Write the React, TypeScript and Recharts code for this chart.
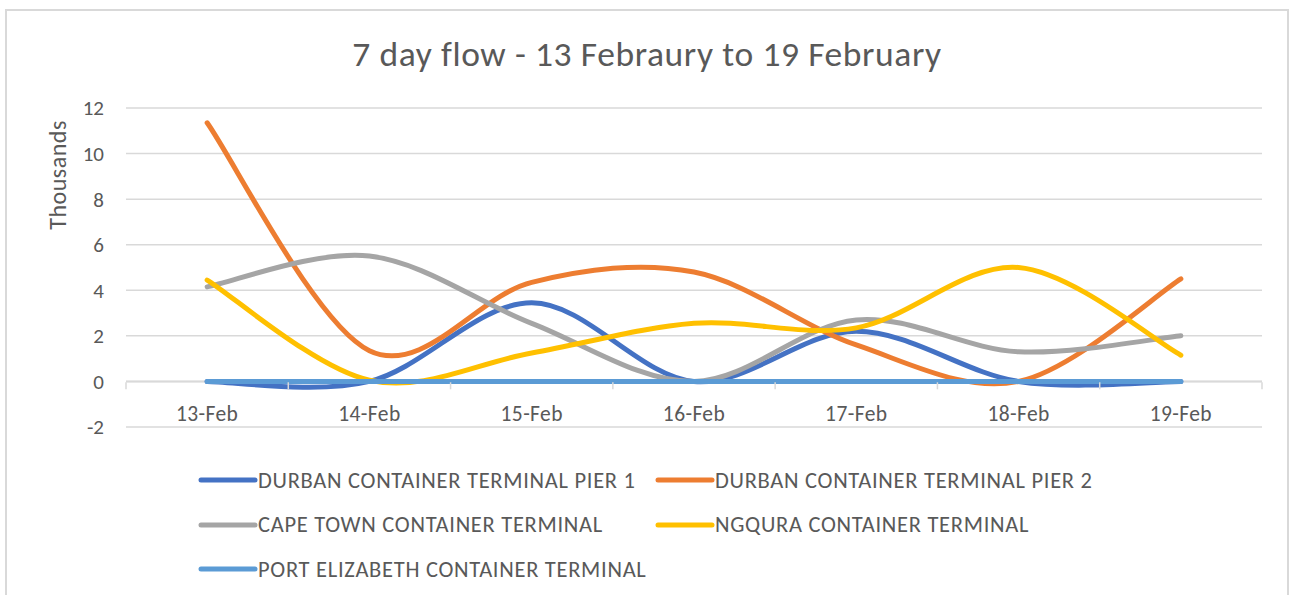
import React from "react";
import {
  LineChart,
  Line,
  XAxis,
  YAxis,
  CartesianGrid,
  ReferenceLine,
  Legend,
} from "recharts";

const days = ["13-Feb", "14-Feb", "15-Feb", "16-Feb", "17-Feb", "18-Feb", "19-Feb"];
const durbanPier1 = [0, 0, 3.45, 0, 2.2, 0, 0];
const durbanPier2 = [11.35, 1.35, 4.35, 4.8, 1.6, 0, 4.5];
const capeTown = [4.15, 5.5, 2.55, 0, 2.7, 1.3, 2.0];
const ngqura = [4.45, 0.05, 1.25, 2.55, 2.35, 5.0, 1.15];
const portElizabeth = [0, 0, 0, 0, 0, 0, 0];
const yTicks = [-2, 0, 2, 4, 6, 8, 10, 12];

const series = [
  { key: "p1", name: "DURBAN CONTAINER TERMINAL PIER 1", values: durbanPier1, color: "#4472C4" },
  { key: "p2", name: "DURBAN CONTAINER TERMINAL PIER 2", values: durbanPier2, color: "#ED7D31" },
  { key: "ct", name: "CAPE TOWN CONTAINER TERMINAL", values: capeTown, color: "#A5A5A5" },
  { key: "nq", name: "NGQURA CONTAINER TERMINAL", values: ngqura, color: "#FFC000" },
  { key: "pe", name: "PORT ELIZABETH CONTAINER TERMINAL", values: portElizabeth, color: "#5B9BD5" },
];

const data = days.map((day, i) => {
  const row: Record<string, string | number> = { day };
  series.forEach((s) => (row[s.key] = s.values[i]));
  return row;
});

const FONT = "Carlito, Lato, 'Liberation Sans', sans-serif";
const TEXT = "#595959";
const W = 1280;
const H = 586;
const M = { top: 97, right: 25, bottom: 169, left: 0 };
const Y_W = 119;
const PLOT_W = W - M.left - M.right - Y_W;
const PLOT_H = H - M.top - M.bottom;
const Y_MIN = -2;
const Y_MAX = 12;
const zeroY = M.top + ((Y_MAX - 0) / (Y_MAX - Y_MIN)) * PLOT_H;

// Excel-like smoothed line (catmull-rom style bezier)
const excelSmooth = (context: any) => {
  let pts: number[][] = [];
  return {
    areaStart() {},
    areaEnd() {},
    lineStart() {
      pts = [];
    },
    point(x: number, y: number) {
      pts.push([+x, +y]);
    },
    lineEnd() {
      const n = pts.length;
      if (!n) return;
      context.moveTo(pts[0][0], pts[0][1]);
      for (let i = 0; i < n - 1; i++) {
        const p0 = pts[Math.max(i - 1, 0)];
        const p1 = pts[i];
        const p2 = pts[i + 1];
        const p3 = pts[Math.min(i + 2, n - 1)];
        context.bezierCurveTo(
          p1[0] + (p2[0] - p0[0]) / 6,
          p1[1] + (p2[1] - p0[1]) / 6,
          p2[0] - (p3[0] - p1[0]) / 6,
          p2[1] - (p3[1] - p1[1]) / 6,
          p2[0],
          p2[1]
        );
      }
    },
  };
};

const DayTick = (props: any) => {
  const { x, index, payload } = props;
  const bw = PLOT_W / days.length;
  return (
    <g>
      <line x1={x - bw / 2} x2={x - bw / 2} y1={zeroY} y2={zeroY + 7} stroke="#d9d9d9" strokeWidth={1.5} />
      {index === days.length - 1 && (
        <line x1={x + bw / 2} x2={x + bw / 2} y1={zeroY} y2={zeroY + 7} stroke="#d9d9d9" strokeWidth={1.5} />
      )}
      <text
        x={x}
        y={zeroY + 39}
        textAnchor="middle"
        fill={TEXT}
        fontSize={21.5}
        letterSpacing={0.4}
        fontFamily={FONT}
      >
        {payload.value}
      </text>
    </g>
  );
};

const LegendBox = () => (
  <div
    style={{
      display: "grid",
      gridTemplateColumns: "457px 457px",
      gridAutoRows: "44.5px",
      fontFamily: FONT,
      fontSize: 22.5,
      letterSpacing: 0.7,
      color: TEXT,
    }}
  >
    {series.map((s) => (
      <div key={s.key} style={{ display: "flex", alignItems: "center" }}>
        <svg width={60} height={8}>
          <line x1={3} x2={57} y1={4} y2={4} stroke={s.color} strokeWidth={5} strokeLinecap="round" />
        </svg>
        <span style={{ whiteSpace: "nowrap" }}>{s.name}</span>
      </div>
    ))}
  </div>
);

const YLabel = (props: any) => {
  const { viewBox } = props;
  const cx = viewBox.x + 50;
  const cy = viewBox.y + 67;
  return (
    <text
      x={cx}
      y={cy}
      transform={`rotate(-90 ${cx} ${cy})`}
      textAnchor="middle"
      dominantBaseline="central"
      fill={TEXT}
      fontSize={24}
      letterSpacing={0.5}
      fontFamily={FONT}
    >
      Thousands
    </text>
  );
};

export default function App() {
  return (
    <div style={{ position: "absolute", left: 0, top: 0, width: 1294, height: 595, background: "#fff", overflow: "hidden" }}>
      <div
        style={{
          position: "absolute",
          left: 5,
          top: 9,
          width: 1284,
          height: 600,
          border: "2px solid #d9d9d9",
          boxSizing: "border-box",
          background: "#fff",
        }}
      >
        <div
          style={{
            position: "absolute",
            left: 0,
            width: "100%",
            top: 21,
            textAlign: "center",
            fontFamily: FONT,
            fontSize: 35.5,
            letterSpacing: 0.6,
            color: TEXT,
            lineHeight: "44px",
          }}
        >
          7 day flow - 13 Febraury to 19 February
        </div>
        <LineChart width={W} height={H} data={data} margin={M}>
          <CartesianGrid vertical={false} stroke="#d9d9d9" strokeWidth={1.5} />
          <XAxis
            dataKey="day"
            scale="band"
            axisLine={false}
            tickLine={false}
            height={1}
            interval={0}
            tick={<DayTick />}
          />
          <YAxis
            width={Y_W}
            domain={[Y_MIN, Y_MAX]}
            ticks={yTicks}
            axisLine={false}
            tickLine={false}
            tickSize={0}
            tickMargin={22}
            tick={{ fill: TEXT, fontSize: 21, fontFamily: FONT }}
            label={<YLabel />}
          />
          <ReferenceLine y={0} stroke="#d9d9d9" strokeWidth={2} />
          {series.map((s) => (
            <Line
              key={s.key}
              dataKey={s.key}
              name={s.name}
              stroke={s.color}
              strokeWidth={5}
              strokeLinecap="round"
              dot={false}
              activeDot={false}
              type={excelSmooth as any}
              isAnimationActive={false}
            />
          ))}
          <Legend
            layout="horizontal"
            verticalAlign="middle"
            align="center"
            content={<LegendBox />}
            wrapperStyle={{ top: 447, left: 191, width: 920 }}
          />
        </LineChart>
      </div>
    </div>
  );
}
